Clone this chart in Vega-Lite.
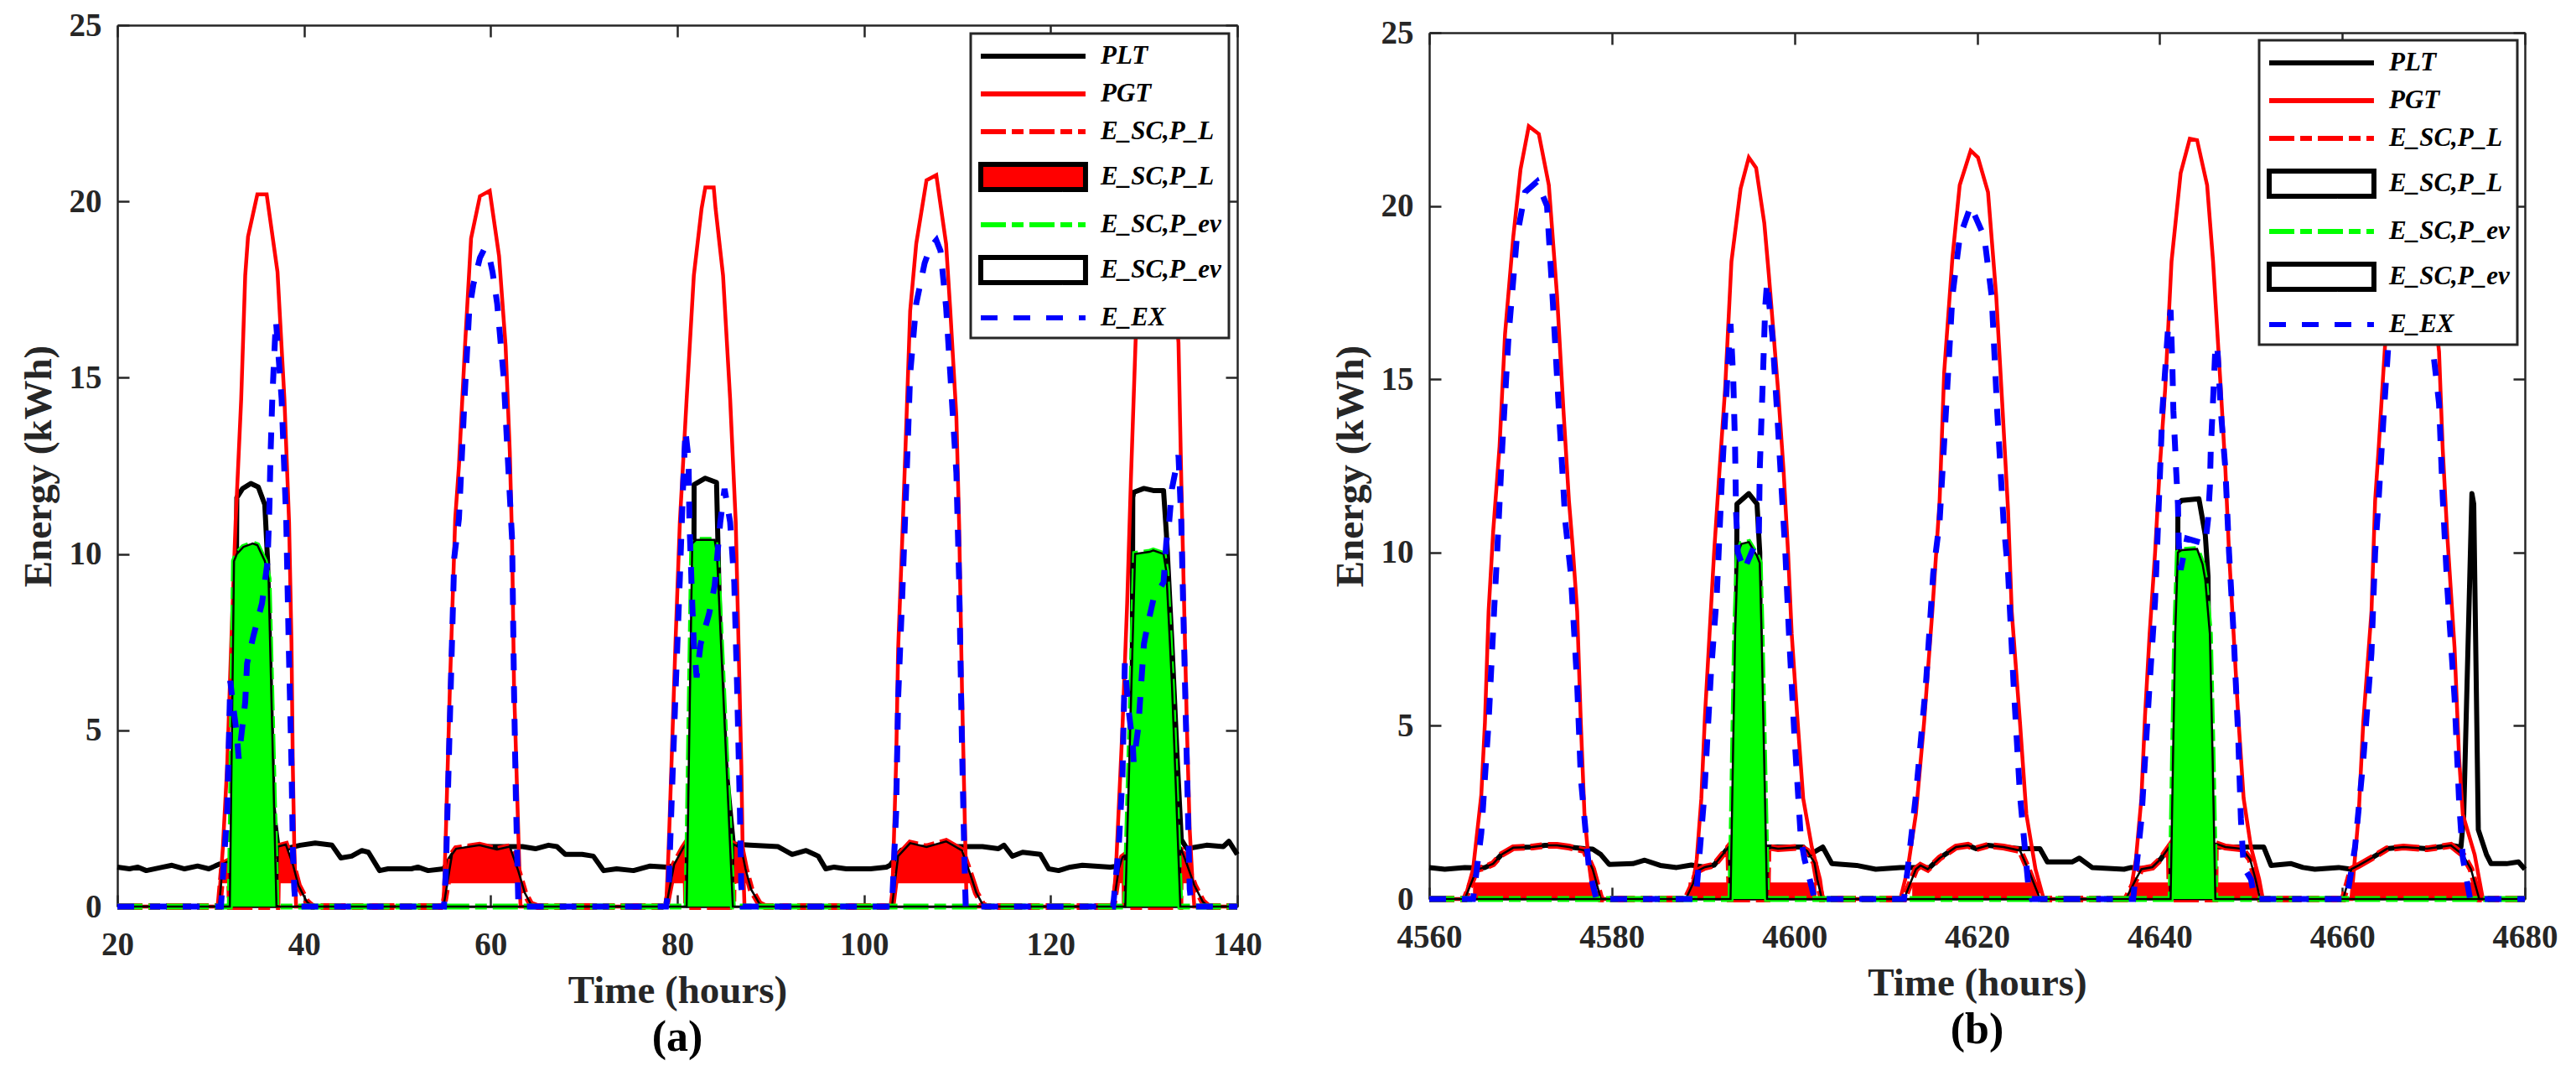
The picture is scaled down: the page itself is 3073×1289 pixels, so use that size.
{
  "$schema": "https://vega.github.io/schema/vega-lite/v6.json",
  "background": "white",
  "padding": {"left": 22, "top": 11, "right": 5, "bottom": 5},
  "config": {
    "view": {"stroke": null},
    "font": "Liberation Serif",
    "axis": {
      "grid": false,
      "domainColor": "#262626",
      "domainWidth": 2.5,
      "tickColor": "#262626",
      "tickWidth": 2.5,
      "tickSize": -14,
      "labelColor": "#262626",
      "labelFont": "Liberation Serif",
      "labelFontSize": 39,
      "labelFontWeight": "bold",
      "labelFlush": false,
      "titleColor": "#262626",
      "titleFont": "Liberation Serif",
      "titleFontSize": 47,
      "titleFontWeight": "bold"
    },
    "legend": {
      "title": null, "orient": "top-right", "padding": 9,
      "fillColor": "white", "strokeColor": "#262626", "strokeWidth": 3,
      "symbolSize": 900, "symbolStrokeWidth": 6, "symbolOpacity": 1,
      "labelFont": "Liberation Serif", "labelFontSize": 31, "labelFontStyle": "italic", "labelFontWeight": "bold", "labelColor": "black",
      "labelOffset": 110, "rowPadding": 12
    }
  },
  "datasets": {
    "a": [
      {"s":"plt","t":20,"v":1.12},{"s":"plt","t":21.3,"v":1.07},{"s":"plt","t":22.2,"v":1.12},{"s":"plt","t":23.1,"v":1.02},{"s":"plt","t":24.9,"v":1.12},{"s":"plt","t":25.85,"v":1.17},{"s":"plt","t":27.2,"v":1.07},{"s":"plt","t":28.6,"v":1.15},{"s":"plt","t":29.8,"v":1.07},{"s":"plt","t":30.9,"v":1.2},{"s":"plt","t":31.6,"v":1.24},{"s":"plt","t":32.6,"v":1.3},{"s":"plt","t":32.8,"v":11.6},{"s":"plt","t":33.4,"v":11.85},{"s":"plt","t":34.3,"v":12.0},{"s":"plt","t":35.1,"v":11.9},{"s":"plt","t":35.8,"v":11.4},{"s":"plt","t":36.1,"v":9.8},{"s":"plt","t":36.4,"v":6.3},{"s":"plt","t":36.7,"v":2.8},{"s":"plt","t":37.2,"v":1.7},{"s":"plt","t":38.0,"v":1.64},{"s":"plt","t":39.6,"v":1.74},{"s":"plt","t":41.2,"v":1.8},{"s":"plt","t":43.0,"v":1.74},{"s":"plt","t":43.95,"v":1.38},{"s":"plt","t":45.1,"v":1.43},{"s":"plt","t":46.2,"v":1.59},{"s":"plt","t":46.9,"v":1.54},{"s":"plt","t":48.1,"v":1.02},{"s":"plt","t":49.0,"v":1.07},{"s":"plt","t":51.5,"v":1.07},{"s":"plt","t":52.2,"v":1.12},{"s":"plt","t":53.3,"v":1.02},{"s":"plt","t":54.95,"v":1.07},{"s":"plt","t":56,"v":1.5},{"s":"plt","t":58,"v":1.7},{"s":"plt","t":60,"v":1.7},{"s":"plt","t":62.05,"v":1.7},{"s":"plt","t":63.4,"v":1.7},{"s":"plt","t":64.8,"v":1.64},{"s":"plt","t":66.2,"v":1.74},{"s":"plt","t":67.1,"v":1.7},{"s":"plt","t":68.0,"v":1.48},{"s":"plt","t":69.8,"v":1.48},{"s":"plt","t":71.0,"v":1.43},{"s":"plt","t":72.1,"v":1.02},{"s":"plt","t":73.5,"v":1.07},{"s":"plt","t":75.3,"v":1.02},{"s":"plt","t":77.1,"v":1.15},{"s":"plt","t":78.9,"v":1.12},{"s":"plt","t":80.5,"v":1.2},{"s":"plt","t":81.7,"v":1.25},{"s":"plt","t":81.8,"v":11.97},{"s":"plt","t":83.0,"v":12.15},{"s":"plt","t":84.2,"v":12.03},{"s":"plt","t":84.3,"v":10.9},{"s":"plt","t":84.6,"v":7.45},{"s":"plt","t":85.2,"v":4.0},{"s":"plt","t":86.0,"v":1.77},{"s":"plt","t":87.8,"v":1.74},{"s":"plt","t":90.8,"v":1.7},{"s":"plt","t":92.3,"v":1.48},{"s":"plt","t":93.8,"v":1.59},{"s":"plt","t":95.1,"v":1.43},{"s":"plt","t":95.9,"v":1.07},{"s":"plt","t":96.8,"v":1.12},{"s":"plt","t":98.1,"v":1.07},{"s":"plt","t":100.7,"v":1.07},{"s":"plt","t":102.4,"v":1.12},{"s":"plt","t":102.8,"v":1.17},{"s":"plt","t":104,"v":1.6},{"s":"plt","t":107,"v":1.7},{"s":"plt","t":111.0,"v":1.7},{"s":"plt","t":112.7,"v":1.7},{"s":"plt","t":114.4,"v":1.64},{"s":"plt","t":115.0,"v":1.74},{"s":"plt","t":115.9,"v":1.43},{"s":"plt","t":117.0,"v":1.54},{"s":"plt","t":118.9,"v":1.48},{"s":"plt","t":119.8,"v":1.07},{"s":"plt","t":120.85,"v":1.02},{"s":"plt","t":122.1,"v":1.12},{"s":"plt","t":123.4,"v":1.17},{"s":"plt","t":126.4,"v":1.12},{"s":"plt","t":128.7,"v":1.2},{"s":"plt","t":128.8,"v":11.6},{"s":"plt","t":128.9,"v":11.75},{"s":"plt","t":130,"v":11.86},{"s":"plt","t":131,"v":11.8},{"s":"plt","t":132.1,"v":11.8},{"s":"plt","t":132.4,"v":10.6},{"s":"plt","t":133.0,"v":7.45},{"s":"plt","t":133.6,"v":4.0},{"s":"plt","t":134.0,"v":1.9},{"s":"plt","t":134.6,"v":1.64},{"s":"plt","t":136.7,"v":1.74},{"s":"plt","t":138.5,"v":1.7},{"s":"plt","t":139.1,"v":1.85},{"s":"plt","t":140,"v":1.48},

      {"s":"pgt","t":20,"v":0},{"s":"pgt","t":30.85,"v":0},{"s":"pgt","t":31.3,"v":1.65},{"s":"pgt","t":31.77,"v":4.0},{"s":"pgt","t":32.2,"v":7.45},{"s":"pgt","t":32.67,"v":10.9},{"s":"pgt","t":33.27,"v":14.4},{"s":"pgt","t":33.7,"v":17.9},{"s":"pgt","t":34.0,"v":19.0},{"s":"pgt","t":35.0,"v":20.2},{"s":"pgt","t":36.0,"v":20.2},{"s":"pgt","t":37.16,"v":18.0},{"s":"pgt","t":37.9,"v":14.4},{"s":"pgt","t":38.4,"v":10.9},{"s":"pgt","t":38.66,"v":7.45},{"s":"pgt","t":38.8,"v":4.0},{"s":"pgt","t":38.96,"v":1.65},{"s":"pgt","t":39.15,"v":0},
      {"s":"pgt","t":54.95,"v":0},{"s":"pgt","t":55.2,"v":2.1},{"s":"pgt","t":55.64,"v":6.3},{"s":"pgt","t":56.2,"v":11.0},{"s":"pgt","t":56.6,"v":12.5},{"s":"pgt","t":57.25,"v":15.9},{"s":"pgt","t":57.9,"v":18.95},{"s":"pgt","t":58.85,"v":20.15},{"s":"pgt","t":59.9,"v":20.3},{"s":"pgt","t":60.9,"v":18.45},{"s":"pgt","t":61.6,"v":15.9},{"s":"pgt","t":62.05,"v":12.9},{"s":"pgt","t":62.3,"v":10.3},{"s":"pgt","t":62.5,"v":6.3},{"s":"pgt","t":62.96,"v":2.1},{"s":"pgt","t":63.2,"v":0},
      {"s":"pgt","t":78.8,"v":0},{"s":"pgt","t":79.07,"v":1.65},{"s":"pgt","t":79.37,"v":4.0},{"s":"pgt","t":79.8,"v":7.45},{"s":"pgt","t":80.27,"v":10.9},{"s":"pgt","t":81.0,"v":14.4},{"s":"pgt","t":81.77,"v":17.9},{"s":"pgt","t":82.6,"v":19.8},{"s":"pgt","t":83.0,"v":20.4},{"s":"pgt","t":83.9,"v":20.4},{"s":"pgt","t":84.1,"v":19.8},{"s":"pgt","t":84.9,"v":17.9},{"s":"pgt","t":85.66,"v":14.4},{"s":"pgt","t":86.26,"v":10.9},{"s":"pgt","t":86.56,"v":7.45},{"s":"pgt","t":86.86,"v":4.0},{"s":"pgt","t":87.0,"v":1.65},{"s":"pgt","t":87.2,"v":0},
      {"s":"pgt","t":103.0,"v":0},{"s":"pgt","t":103.45,"v":4.15},{"s":"pgt","t":103.66,"v":7.3},{"s":"pgt","t":104.1,"v":10.4},{"s":"pgt","t":104.5,"v":13.4},{"s":"pgt","t":104.95,"v":16.9},{"s":"pgt","t":105.6,"v":18.8},{"s":"pgt","t":106.7,"v":20.6},{"s":"pgt","t":107.75,"v":20.75},{"s":"pgt","t":108.8,"v":18.8},{"s":"pgt","t":109.25,"v":16.9},{"s":"pgt","t":109.9,"v":13.9},{"s":"pgt","t":110.2,"v":10.8},{"s":"pgt","t":110.5,"v":6.2},{"s":"pgt","t":110.75,"v":3.1},{"s":"pgt","t":111.0,"v":0},
      {"s":"pgt","t":126.7,"v":0},{"s":"pgt","t":127.0,"v":1.07},{"s":"pgt","t":127.3,"v":2.8},{"s":"pgt","t":127.7,"v":5.1},{"s":"pgt","t":128.2,"v":8.6},{"s":"pgt","t":128.6,"v":12.1},{"s":"pgt","t":129.1,"v":16.0},{"s":"pgt","t":129.6,"v":19.0},{"s":"pgt","t":130.5,"v":20.8},{"s":"pgt","t":131.5,"v":20.8},{"s":"pgt","t":132.5,"v":19.5},{"s":"pgt","t":133.2,"v":17.5},{"s":"pgt","t":133.7,"v":16.0},{"s":"pgt","t":134.0,"v":12.1},{"s":"pgt","t":134.3,"v":8.6},{"s":"pgt","t":134.6,"v":5.1},{"s":"pgt","t":134.9,"v":2.2},{"s":"pgt","t":135.2,"v":0.7},{"s":"pgt","t":135.4,"v":0},{"s":"pgt","t":140,"v":0},

      {"s":"scl","t":20,"v":0},{"s":"scl","t":30.9,"v":0},{"s":"scl","t":31.3,"v":1.2},{"s":"scl","t":32.0,"v":1.3},{"s":"scl","t":32.1,"v":0},{"s":"scl","t":37.1,"v":0},{"s":"scl","t":37.2,"v":1.7},{"s":"scl","t":38.05,"v":1.76},{"s":"scl","t":38.8,"v":1.2},{"s":"scl","t":39.4,"v":0.6},{"s":"scl","t":40.3,"v":0.14},{"s":"scl","t":40.9,"v":0},
      {"s":"scl","t":54.95,"v":0},{"s":"scl","t":55.86,"v":1.48},{"s":"scl","t":56.3,"v":1.64},{"s":"scl","t":58.8,"v":1.74},{"s":"scl","t":60.68,"v":1.62},{"s":"scl","t":62.05,"v":1.7},{"s":"scl","t":62.97,"v":1.0},{"s":"scl","t":63.65,"v":0.39},{"s":"scl","t":64.3,"v":0.07},{"s":"scl","t":65.0,"v":0},
      {"s":"scl","t":78.8,"v":0},{"s":"scl","t":79.67,"v":1.2},{"s":"scl","t":80.6,"v":1.65},{"s":"scl","t":80.9,"v":1.77},{"s":"scl","t":81.0,"v":0},{"s":"scl","t":85.95,"v":0},{"s":"scl","t":86.0,"v":1.77},{"s":"scl","t":86.86,"v":1.65},{"s":"scl","t":87.3,"v":1.07},{"s":"scl","t":87.9,"v":0.49},{"s":"scl","t":88.8,"v":0.08},{"s":"scl","t":89.4,"v":0},
      {"s":"scl","t":103.0,"v":0},{"s":"scl","t":103.66,"v":1.43},{"s":"scl","t":104.95,"v":1.8},{"s":"scl","t":106.7,"v":1.69},{"s":"scl","t":108.8,"v":1.85},{"s":"scl","t":110.5,"v":1.59},{"s":"scl","t":111.4,"v":0.91},{"s":"scl","t":112.04,"v":0.39},{"s":"scl","t":112.7,"v":0.07},{"s":"scl","t":113.1,"v":0},
      {"s":"scl","t":126.7,"v":0},{"s":"scl","t":127.3,"v":1.07},{"s":"scl","t":127.7,"v":1.4},{"s":"scl","t":127.95,"v":1.45},{"s":"scl","t":128.0,"v":0},{"s":"scl","t":133.85,"v":0},{"s":"scl","t":133.9,"v":1.7},{"s":"scl","t":134.6,"v":1.2},{"s":"scl","t":135.4,"v":0.6},{"s":"scl","t":136.3,"v":0.14},{"s":"scl","t":136.9,"v":0},{"s":"scl","t":140,"v":0},

      {"s":"sev","t":20,"v":0},{"s":"sev","t":32.05,"v":0},{"s":"sev","t":32.5,"v":9.8},{"s":"sev","t":32.8,"v":10.0},{"s":"sev","t":33.5,"v":10.2},{"s":"sev","t":34.5,"v":10.3},{"s":"sev","t":35.0,"v":10.25},{"s":"sev","t":35.8,"v":9.8},{"s":"sev","t":36.2,"v":9.3},{"s":"sev","t":37.05,"v":0},
      {"s":"sev","t":81.0,"v":0},{"s":"sev","t":81.6,"v":10.3},{"s":"sev","t":82.0,"v":10.4},{"s":"sev","t":84.0,"v":10.4},{"s":"sev","t":84.25,"v":10.0},{"s":"sev","t":85.95,"v":0},
      {"s":"sev","t":128.0,"v":0},{"s":"sev","t":129.05,"v":10.0},{"s":"sev","t":130.6,"v":10.06},{"s":"sev","t":131.0,"v":10.1},{"s":"sev","t":132.1,"v":10.0},{"s":"sev","t":132.4,"v":9.5},{"s":"sev","t":133.0,"v":6.3},{"s":"sev","t":133.9,"v":0},{"s":"sev","t":140,"v":0},

      {"s":"ex","t":20,"v":0},{"s":"ex","t":31.1,"v":0},{"s":"ex","t":31.77,"v":2.7},{"s":"ex","t":32.1,"v":6.4},{"s":"ex","t":32.4,"v":5.7},{"s":"ex","t":32.8,"v":4.9},{"s":"ex","t":33.0,"v":4.2},{"s":"ex","t":33.7,"v":5.8},{"s":"ex","t":33.9,"v":6.9},{"s":"ex","t":34.6,"v":7.7},{"s":"ex","t":35.5,"v":8.6},{"s":"ex","t":36.1,"v":9.8},{"s":"ex","t":36.3,"v":11.4},{"s":"ex","t":36.4,"v":12.7},{"s":"ex","t":36.6,"v":14.4},{"s":"ex","t":36.9,"v":16.15},{"s":"ex","t":37.0,"v":16.6},{"s":"ex","t":37.6,"v":14.4},{"s":"ex","t":38.1,"v":10.9},{"s":"ex","t":38.36,"v":7.45},{"s":"ex","t":38.66,"v":4.0},{"s":"ex","t":38.8,"v":1.65},{"s":"ex","t":38.96,"v":0.5},{"s":"ex","t":39.1,"v":0},
      {"s":"ex","t":55.0,"v":0},{"s":"ex","t":55.2,"v":1.0},{"s":"ex","t":55.6,"v":5.0},{"s":"ex","t":56.1,"v":9.9},{"s":"ex","t":56.6,"v":11.0},{"s":"ex","t":57.2,"v":14.4},{"s":"ex","t":57.7,"v":16.9},{"s":"ex","t":58.15,"v":17.65},{"s":"ex","t":58.85,"v":18.4},{"s":"ex","t":59.3,"v":18.64},{"s":"ex","t":59.76,"v":18.55},{"s":"ex","t":60.2,"v":18.0},{"s":"ex","t":60.7,"v":17.1},{"s":"ex","t":61.4,"v":15.0},{"s":"ex","t":61.8,"v":12.9},{"s":"ex","t":62.3,"v":10.4},{"s":"ex","t":62.5,"v":6.2},{"s":"ex","t":62.7,"v":3.1},{"s":"ex","t":62.97,"v":0},
      {"s":"ex","t":78.8,"v":0},{"s":"ex","t":79.07,"v":0.5},{"s":"ex","t":79.37,"v":2.8},{"s":"ex","t":79.8,"v":6.0},{"s":"ex","t":80.27,"v":9.3},{"s":"ex","t":80.6,"v":11.8},{"s":"ex","t":80.87,"v":13.5},{"s":"ex","t":81.2,"v":12.7},{"s":"ex","t":81.3,"v":10.9},{"s":"ex","t":81.6,"v":8.6},{"s":"ex","t":81.77,"v":7.45},{"s":"ex","t":82.07,"v":6.5},{"s":"ex","t":82.5,"v":7.45},{"s":"ex","t":83.4,"v":8.3},{"s":"ex","t":84.0,"v":9.1},{"s":"ex","t":84.3,"v":10.0},{"s":"ex","t":84.6,"v":10.9},{"s":"ex","t":85.06,"v":11.85},{"s":"ex","t":85.66,"v":10.9},{"s":"ex","t":86.1,"v":9.2},{"s":"ex","t":86.4,"v":6.3},{"s":"ex","t":86.7,"v":2.8},{"s":"ex","t":86.85,"v":0.6},{"s":"ex","t":87.0,"v":0},
      {"s":"ex","t":103.0,"v":0},{"s":"ex","t":103.45,"v":2.7},{"s":"ex","t":103.66,"v":5.9},{"s":"ex","t":104.1,"v":8.8},{"s":"ex","t":104.5,"v":11.7},{"s":"ex","t":104.95,"v":15.1},{"s":"ex","t":105.6,"v":17.1},{"s":"ex","t":106.5,"v":18.25},{"s":"ex","t":107.1,"v":18.7},{"s":"ex","t":107.75,"v":18.9},{"s":"ex","t":108.2,"v":18.6},{"s":"ex","t":108.8,"v":17.0},{"s":"ex","t":109.25,"v":15.1},{"s":"ex","t":109.9,"v":12.3},{"s":"ex","t":110.2,"v":9.2},{"s":"ex","t":110.5,"v":4.6},{"s":"ex","t":110.75,"v":1.5},{"s":"ex","t":110.9,"v":0},
      {"s":"ex","t":126.7,"v":0},{"s":"ex","t":127.3,"v":1.7},{"s":"ex","t":127.7,"v":3.7},{"s":"ex","t":127.95,"v":6.9},{"s":"ex","t":128.3,"v":5.7},{"s":"ex","t":128.8,"v":4.6},{"s":"ex","t":128.9,"v":4.1},{"s":"ex","t":129.4,"v":5.1},{"s":"ex","t":129.7,"v":6.3},{"s":"ex","t":130.0,"v":7.45},{"s":"ex","t":130.4,"v":8.0},{"s":"ex","t":131.0,"v":8.7},{"s":"ex","t":132.1,"v":9.2},{"s":"ex","t":132.4,"v":10.35},{"s":"ex","t":132.7,"v":10.9},{"s":"ex","t":133.0,"v":11.85},{"s":"ex","t":133.7,"v":12.8},{"s":"ex","t":134.0,"v":10.9},{"s":"ex","t":134.3,"v":7.45},{"s":"ex","t":134.6,"v":4.0},{"s":"ex","t":134.9,"v":0.5},{"s":"ex","t":135.1,"v":0},{"s":"ex","t":140,"v":0}
    ],
    "fa": [
      {"g":1,"t":31.1,"v":0.66},{"g":1,"t":31.3,"v":1.2},{"g":1,"t":32.0,"v":1.3},{"g":1,"t":32.05,"v":0.66},
      {"g":2,"t":37.14,"v":0.66},{"g":2,"t":37.2,"v":1.7},{"g":2,"t":38.05,"v":1.76},{"g":2,"t":38.8,"v":1.2},{"g":2,"t":39.34,"v":0.66},
      {"g":3,"t":55.36,"v":0.66},{"g":3,"t":55.86,"v":1.48},{"g":3,"t":56.3,"v":1.64},{"g":3,"t":58.8,"v":1.74},{"g":3,"t":60.68,"v":1.62},{"g":3,"t":62.05,"v":1.7},{"g":3,"t":62.97,"v":1.0},{"g":3,"t":63.35,"v":0.66},
      {"g":4,"t":79.4,"v":0.66},{"g":4,"t":79.67,"v":1.2},{"g":4,"t":80.6,"v":1.65},{"g":4,"t":80.9,"v":1.77},{"g":4,"t":80.96,"v":0.66},
      {"g":5,"t":85.97,"v":0.66},{"g":5,"t":86.0,"v":1.77},{"g":5,"t":86.86,"v":1.65},{"g":5,"t":87.3,"v":1.07},{"g":5,"t":87.72,"v":0.66},
      {"g":6,"t":103.31,"v":0.66},{"g":6,"t":103.66,"v":1.43},{"g":6,"t":104.95,"v":1.8},{"g":6,"t":106.7,"v":1.69},{"g":6,"t":108.8,"v":1.85},{"g":6,"t":110.5,"v":1.59},{"g":6,"t":111.4,"v":0.91},{"g":6,"t":111.71,"v":0.66},
      {"g":7,"t":127.07,"v":0.66},{"g":7,"t":127.3,"v":1.07},{"g":7,"t":127.7,"v":1.4},{"g":7,"t":127.95,"v":1.45},{"g":7,"t":127.98,"v":0.66},
      {"g":8,"t":133.87,"v":0.66},{"g":8,"t":133.9,"v":1.7},{"g":8,"t":134.6,"v":1.2},{"g":8,"t":135.32,"v":0.66}
    ],
    "b": [
      {"s":"plt","t":4560,"v":0.91},{"s":"plt","t":4561.7,"v":0.86},{"s":"plt","t":4563.9,"v":0.91},{"s":"plt","t":4564.8,"v":0.9},{"s":"plt","t":4566.1,"v":0.91},{"s":"plt","t":4567.0,"v":1.02},{"s":"plt","t":4567.9,"v":1.28},{"s":"plt","t":4569.2,"v":1.48},{"s":"plt","t":4571.3,"v":1.5},{"s":"plt","t":4572.7,"v":1.55},{"s":"plt","t":4574.0,"v":1.55},{"s":"plt","t":4575.3,"v":1.5},{"s":"plt","t":4577.0,"v":1.45},{"s":"plt","t":4577.9,"v":1.44},{"s":"plt","t":4578.8,"v":1.28},{"s":"plt","t":4579.7,"v":1.0},{"s":"plt","t":4582.3,"v":1.02},{"s":"plt","t":4583.6,"v":1.12},{"s":"plt","t":4585.3,"v":0.97},{"s":"plt","t":4587.1,"v":0.91},{"s":"plt","t":4588.7,"v":0.98},{"s":"plt","t":4590.2,"v":0.92},{"s":"plt","t":4591.2,"v":0.98},{"s":"plt","t":4592.1,"v":1.27},{"s":"plt","t":4592.8,"v":1.5},{"s":"plt","t":4593.6,"v":1.5},{"s":"plt","t":4593.7,"v":11.4},{"s":"plt","t":4595.0,"v":11.7},{"s":"plt","t":4595.9,"v":11.4},{"s":"plt","t":4596.2,"v":10.0},{"s":"plt","t":4596.35,"v":1.5},{"s":"plt","t":4597.3,"v":1.5},{"s":"plt","t":4600.96,"v":1.5},{"s":"plt","t":4601.6,"v":1.27},{"s":"plt","t":4603.1,"v":1.5},{"s":"plt","t":4604.1,"v":1.02},{"s":"plt","t":4606.8,"v":0.97},{"s":"plt","t":4608.9,"v":0.86},{"s":"plt","t":4611.6,"v":0.91},{"s":"plt","t":4613.3,"v":0.91},{"s":"plt","t":4613.8,"v":0.97},{"s":"plt","t":4614.6,"v":0.86},{"s":"plt","t":4615.9,"v":1.18},{"s":"plt","t":4617.7,"v":1.5},{"s":"plt","t":4619.0,"v":1.55},{"s":"plt","t":4619.9,"v":1.45},{"s":"plt","t":4621.2,"v":1.55},{"s":"plt","t":4622.9,"v":1.5},{"s":"plt","t":4624.7,"v":1.45},{"s":"plt","t":4626.9,"v":1.45},{"s":"plt","t":4627.7,"v":1.07},{"s":"plt","t":4630.4,"v":1.07},{"s":"plt","t":4631.2,"v":1.18},{"s":"plt","t":4632.6,"v":0.91},{"s":"plt","t":4636.1,"v":0.86},{"s":"plt","t":4636.9,"v":0.91},{"s":"plt","t":4638.0,"v":0.88},{"s":"plt","t":4639.2,"v":0.92},{"s":"plt","t":4640.1,"v":1.15},{"s":"plt","t":4641.05,"v":1.5},{"s":"plt","t":4641.9,"v":1.5},{"s":"plt","t":4642.0,"v":11.4},{"s":"plt","t":4642.4,"v":11.5},{"s":"plt","t":4644.3,"v":11.55},{"s":"plt","t":4645.0,"v":10.5},{"s":"plt","t":4645.3,"v":9.3},{"s":"plt","t":4645.5,"v":1.6},{"s":"plt","t":4646.4,"v":1.5},{"s":"plt","t":4649.9,"v":1.5},{"s":"plt","t":4651.4,"v":1.5},{"s":"plt","t":4652.2,"v":0.97},{"s":"plt","t":4654.4,"v":1.02},{"s":"plt","t":4655.7,"v":0.91},{"s":"plt","t":4657.0,"v":0.86},{"s":"plt","t":4659.6,"v":0.91},{"s":"plt","t":4661.0,"v":0.86},{"s":"plt","t":4661.8,"v":0.97},{"s":"plt","t":4663.2,"v":1.18},{"s":"plt","t":4664.9,"v":1.45},{"s":"plt","t":4666.7,"v":1.5},{"s":"plt","t":4669.3,"v":1.45},{"s":"plt","t":4671.9,"v":1.55},{"s":"plt","t":4673.0,"v":1.5},{"s":"plt","t":4673.3,"v":2.4},{"s":"plt","t":4674.2,"v":11.7},{"s":"plt","t":4674.4,"v":11.4},{"s":"plt","t":4674.9,"v":2.0},{"s":"plt","t":4675.8,"v":1.28},{"s":"plt","t":4676.3,"v":1.02},{"s":"plt","t":4678.0,"v":1.02},{"s":"plt","t":4679.3,"v":1.07},{"s":"plt","t":4680,"v":0.86},

      {"s":"pgt","t":4560,"v":0},{"s":"pgt","t":4563.9,"v":0},{"s":"pgt","t":4564.8,"v":0.86},{"s":"pgt","t":4565.7,"v":3.0},{"s":"pgt","t":4566.1,"v":5.1},{"s":"pgt","t":4566.5,"v":8.3},{"s":"pgt","t":4567.0,"v":10.6},{"s":"pgt","t":4567.7,"v":13.06},{"s":"pgt","t":4568.3,"v":16.3},{"s":"pgt","t":4569.2,"v":19.1},{"s":"pgt","t":4570.0,"v":21.06},{"s":"pgt","t":4570.9,"v":22.3},{"s":"pgt","t":4572.0,"v":22.08},{"s":"pgt","t":4573.1,"v":20.6},{"s":"pgt","t":4574.0,"v":17.4},{"s":"pgt","t":4574.7,"v":14.1},{"s":"pgt","t":4575.3,"v":11.5},{"s":"pgt","t":4575.7,"v":10.2},{"s":"pgt","t":4576.2,"v":8.3},{"s":"pgt","t":4576.6,"v":5.1},{"s":"pgt","t":4577.0,"v":2.45},{"s":"pgt","t":4577.5,"v":1.0},{"s":"pgt","t":4578.0,"v":0},
      {"s":"pgt","t":4588.6,"v":0},{"s":"pgt","t":4589.3,"v":1.15},{"s":"pgt","t":4589.8,"v":2.9},{"s":"pgt","t":4590.2,"v":5.3},{"s":"pgt","t":4590.7,"v":7.65},{"s":"pgt","t":4591.2,"v":10.0},{"s":"pgt","t":4591.8,"v":12.4},{"s":"pgt","t":4592.4,"v":14.7},{"s":"pgt","t":4593.1,"v":18.4},{"s":"pgt","t":4594.1,"v":20.5},{"s":"pgt","t":4595.0,"v":21.4},{"s":"pgt","t":4595.8,"v":21.1},{"s":"pgt","t":4596.7,"v":19.5},{"s":"pgt","t":4597.2,"v":18.0},{"s":"pgt","t":4598.2,"v":14.7},{"s":"pgt","t":4598.8,"v":12.4},{"s":"pgt","t":4599.3,"v":10.0},{"s":"pgt","t":4599.7,"v":7.65},{"s":"pgt","t":4600.3,"v":5.3},{"s":"pgt","t":4600.96,"v":2.9},{"s":"pgt","t":4601.9,"v":1.5},{"s":"pgt","t":4602.8,"v":0.57},{"s":"pgt","t":4603.1,"v":0},
      {"s":"pgt","t":4611.6,"v":0},{"s":"pgt","t":4612.4,"v":0.86},{"s":"pgt","t":4613.3,"v":2.45},{"s":"pgt","t":4614.2,"v":5.1},{"s":"pgt","t":4615.1,"v":8.3},{"s":"pgt","t":4615.9,"v":11.5},{"s":"pgt","t":4616.4,"v":15.2},{"s":"pgt","t":4617.3,"v":18.5},{"s":"pgt","t":4618.1,"v":20.6},{"s":"pgt","t":4619.3,"v":21.6},{"s":"pgt","t":4620.1,"v":21.4},{"s":"pgt","t":4621.2,"v":20.4},{"s":"pgt","t":4622.1,"v":17.4},{"s":"pgt","t":4622.8,"v":14.1},{"s":"pgt","t":4623.4,"v":11.2},{"s":"pgt","t":4623.8,"v":8.3},{"s":"pgt","t":4624.7,"v":5.1},{"s":"pgt","t":4625.4,"v":2.45},{"s":"pgt","t":4626.4,"v":0.86},{"s":"pgt","t":4627.3,"v":0},
      {"s":"pgt","t":4636.3,"v":0},{"s":"pgt","t":4636.8,"v":0.2},{"s":"pgt","t":4637.4,"v":1.15},{"s":"pgt","t":4638.0,"v":2.9},{"s":"pgt","t":4638.4,"v":5.3},{"s":"pgt","t":4638.9,"v":7.65},{"s":"pgt","t":4639.5,"v":10.0},{"s":"pgt","t":4640.0,"v":12.4},{"s":"pgt","t":4640.6,"v":14.7},{"s":"pgt","t":4641.3,"v":18.4},{"s":"pgt","t":4642.3,"v":20.95},{"s":"pgt","t":4643.3,"v":21.94},{"s":"pgt","t":4644.1,"v":21.9},{"s":"pgt","t":4645.2,"v":20.6},{"s":"pgt","t":4645.85,"v":18.4},{"s":"pgt","t":4646.7,"v":14.7},{"s":"pgt","t":4647.2,"v":12.4},{"s":"pgt","t":4647.6,"v":10.0},{"s":"pgt","t":4648.1,"v":7.65},{"s":"pgt","t":4648.6,"v":5.3},{"s":"pgt","t":4649.2,"v":2.9},{"s":"pgt","t":4650.0,"v":1.5},{"s":"pgt","t":4650.9,"v":0.57},{"s":"pgt","t":4651.3,"v":0},
      {"s":"pgt","t":4661.0,"v":0},{"s":"pgt","t":4661.8,"v":2.45},{"s":"pgt","t":4662.3,"v":5.1},{"s":"pgt","t":4663.2,"v":8.3},{"s":"pgt","t":4663.6,"v":11.5},{"s":"pgt","t":4664.0,"v":13.06},{"s":"pgt","t":4664.5,"v":15.2},{"s":"pgt","t":4665.3,"v":18.5},{"s":"pgt","t":4666.3,"v":20.8},{"s":"pgt","t":4667.3,"v":21.6},{"s":"pgt","t":4668.2,"v":21.3},{"s":"pgt","t":4669.2,"v":19.5},{"s":"pgt","t":4670.0,"v":17.2},{"s":"pgt","t":4670.6,"v":15.8},{"s":"pgt","t":4671.0,"v":13.0},{"s":"pgt","t":4671.5,"v":10.5},{"s":"pgt","t":4672.3,"v":7.25},{"s":"pgt","t":4672.8,"v":4.05},{"s":"pgt","t":4673.2,"v":2.45},{"s":"pgt","t":4674.5,"v":1.28},{"s":"pgt","t":4675.4,"v":0},{"s":"pgt","t":4680,"v":0},

      {"s":"scl","t":4560,"v":0},{"s":"scl","t":4563.9,"v":0},{"s":"scl","t":4565.2,"v":0.86},{"s":"scl","t":4566.1,"v":0.91},{"s":"scl","t":4567.0,"v":1.02},{"s":"scl","t":4567.9,"v":1.28},{"s":"scl","t":4569.2,"v":1.48},{"s":"scl","t":4571.3,"v":1.5},{"s":"scl","t":4572.7,"v":1.55},{"s":"scl","t":4574.0,"v":1.55},{"s":"scl","t":4575.3,"v":1.5},{"s":"scl","t":4577.0,"v":1.4},{"s":"scl","t":4577.9,"v":0.86},{"s":"scl","t":4578.8,"v":0},
      {"s":"scl","t":4588.1,"v":0},{"s":"scl","t":4588.9,"v":0.45},{"s":"scl","t":4589.3,"v":0.8},{"s":"scl","t":4590.2,"v":0.92},{"s":"scl","t":4591.2,"v":0.98},{"s":"scl","t":4592.1,"v":1.27},{"s":"scl","t":4592.8,"v":1.5},{"s":"scl","t":4592.95,"v":0},{"s":"scl","t":4597.0,"v":0},{"s":"scl","t":4597.1,"v":1.5},{"s":"scl","t":4598.2,"v":1.45},{"s":"scl","t":4600.7,"v":1.5},{"s":"scl","t":4601.4,"v":1.39},{"s":"scl","t":4602.2,"v":1.04},{"s":"scl","t":4602.5,"v":0.57},{"s":"scl","t":4603.0,"v":0},
      {"s":"scl","t":4612.0,"v":0},{"s":"scl","t":4613.3,"v":0.86},{"s":"scl","t":4613.8,"v":0.97},{"s":"scl","t":4614.6,"v":0.86},{"s":"scl","t":4615.9,"v":1.18},{"s":"scl","t":4617.7,"v":1.5},{"s":"scl","t":4619.0,"v":1.55},{"s":"scl","t":4619.9,"v":1.45},{"s":"scl","t":4621.2,"v":1.55},{"s":"scl","t":4622.9,"v":1.5},{"s":"scl","t":4624.7,"v":1.4},{"s":"scl","t":4625.6,"v":0.86},{"s":"scl","t":4626.9,"v":0},
      {"s":"scl","t":4636.3,"v":0},{"s":"scl","t":4637.4,"v":0.57},{"s":"scl","t":4638.0,"v":0.86},{"s":"scl","t":4639.2,"v":0.92},{"s":"scl","t":4640.1,"v":1.15},{"s":"scl","t":4641.05,"v":1.5},{"s":"scl","t":4641.15,"v":0},{"s":"scl","t":4646.05,"v":0},{"s":"scl","t":4646.1,"v":1.6},{"s":"scl","t":4647.2,"v":1.5},{"s":"scl","t":4649.0,"v":1.45},{"s":"scl","t":4649.9,"v":1.15},{"s":"scl","t":4650.5,"v":0.57},{"s":"scl","t":4651.0,"v":0},
      {"s":"scl","t":4660.1,"v":0},{"s":"scl","t":4661.0,"v":0.86},{"s":"scl","t":4661.8,"v":0.97},{"s":"scl","t":4663.2,"v":1.18},{"s":"scl","t":4664.9,"v":1.45},{"s":"scl","t":4666.7,"v":1.5},{"s":"scl","t":4669.3,"v":1.45},{"s":"scl","t":4671.9,"v":1.55},{"s":"scl","t":4673.2,"v":1.28},{"s":"scl","t":4674.1,"v":0.86},{"s":"scl","t":4675.0,"v":0},{"s":"scl","t":4680,"v":0},

      {"s":"sev","t":4560,"v":0},{"s":"sev","t":4593.0,"v":0},{"s":"sev","t":4593.5,"v":7.65},{"s":"sev","t":4593.8,"v":10.0},{"s":"sev","t":4594.2,"v":10.25},{"s":"sev","t":4595.0,"v":10.3},{"s":"sev","t":4595.9,"v":9.9},{"s":"sev","t":4596.2,"v":9.7},{"s":"sev","t":4596.4,"v":7.65},{"s":"sev","t":4597.0,"v":0},
      {"s":"sev","t":4641.2,"v":0},{"s":"sev","t":4641.7,"v":7.65},{"s":"sev","t":4642.0,"v":10.0},{"s":"sev","t":4642.4,"v":10.07},{"s":"sev","t":4644.1,"v":10.1},{"s":"sev","t":4644.7,"v":9.66},{"s":"sev","t":4645.0,"v":9.2},{"s":"sev","t":4645.5,"v":7.65},{"s":"sev","t":4645.8,"v":4.1},{"s":"sev","t":4646.1,"v":0},{"s":"sev","t":4680,"v":0},

      {"s":"ex","t":4560,"v":0},{"s":"ex","t":4564.8,"v":0},{"s":"ex","t":4565.7,"v":1.9},{"s":"ex","t":4566.5,"v":5.1},{"s":"ex","t":4567.1,"v":8.3},{"s":"ex","t":4567.4,"v":9.8},{"s":"ex","t":4568.0,"v":13.06},{"s":"ex","t":4568.7,"v":16.3},{"s":"ex","t":4569.6,"v":19.1},{"s":"ex","t":4570.5,"v":20.4},{"s":"ex","t":4571.8,"v":20.7},{"s":"ex","t":4572.9,"v":20.0},{"s":"ex","t":4573.5,"v":17.4},{"s":"ex","t":4574.2,"v":14.1},{"s":"ex","t":4574.9,"v":10.9},{"s":"ex","t":4575.5,"v":9.4},{"s":"ex","t":4576.2,"v":6.2},{"s":"ex","t":4576.6,"v":3.5},{"s":"ex","t":4577.5,"v":0.86},{"s":"ex","t":4578.3,"v":0},
      {"s":"ex","t":4589.2,"v":0},{"s":"ex","t":4590.1,"v":2.9},{"s":"ex","t":4590.85,"v":6.5},{"s":"ex","t":4591.5,"v":8.8},{"s":"ex","t":4592.1,"v":12.4},{"s":"ex","t":4592.7,"v":15.3},{"s":"ex","t":4593.0,"v":16.6},{"s":"ex","t":4593.3,"v":15.0},{"s":"ex","t":4593.5,"v":13.0},{"s":"ex","t":4593.6,"v":11.2},{"s":"ex","t":4593.8,"v":10.0},{"s":"ex","t":4594.5,"v":9.5},{"s":"ex","t":4596.1,"v":10.5},{"s":"ex","t":4596.2,"v":12.4},{"s":"ex","t":4596.5,"v":14.7},{"s":"ex","t":4596.8,"v":17.1},{"s":"ex","t":4597.0,"v":17.8},{"s":"ex","t":4597.6,"v":16.2},{"s":"ex","t":4598.2,"v":13.6},{"s":"ex","t":4599.0,"v":10.0},{"s":"ex","t":4599.4,"v":7.65},{"s":"ex","t":4600.0,"v":4.7},{"s":"ex","t":4600.7,"v":1.75},{"s":"ex","t":4601.1,"v":1.15},{"s":"ex","t":4601.9,"v":0.33},{"s":"ex","t":4602.2,"v":0},
      {"s":"ex","t":4612.0,"v":0},{"s":"ex","t":4612.4,"v":0.86},{"s":"ex","t":4613.3,"v":3.0},{"s":"ex","t":4614.4,"v":6.2},{"s":"ex","t":4615.2,"v":9.4},{"s":"ex","t":4615.9,"v":10.9},{"s":"ex","t":4616.6,"v":14.1},{"s":"ex","t":4617.3,"v":17.4},{"s":"ex","t":4618.1,"v":19.1},{"s":"ex","t":4619.3,"v":20.0},{"s":"ex","t":4620.8,"v":19.1},{"s":"ex","t":4621.6,"v":17.4},{"s":"ex","t":4622.2,"v":14.1},{"s":"ex","t":4622.9,"v":10.9},{"s":"ex","t":4623.4,"v":9.4},{"s":"ex","t":4624.0,"v":6.2},{"s":"ex","t":4624.7,"v":3.0},{"s":"ex","t":4625.6,"v":0.43},{"s":"ex","t":4626.0,"v":0},
      {"s":"ex","t":4637.1,"v":0},{"s":"ex","t":4638.0,"v":2.3},{"s":"ex","t":4638.9,"v":6.2},{"s":"ex","t":4639.5,"v":8.6},{"s":"ex","t":4640.3,"v":14.1},{"s":"ex","t":4640.9,"v":16.4},{"s":"ex","t":4641.2,"v":17.0},{"s":"ex","t":4641.4,"v":15.3},{"s":"ex","t":4641.5,"v":14.1},{"s":"ex","t":4641.7,"v":13.0},{"s":"ex","t":4641.8,"v":12.4},{"s":"ex","t":4642.0,"v":11.4},{"s":"ex","t":4642.1,"v":10.25},{"s":"ex","t":4642.3,"v":9.5},{"s":"ex","t":4643.0,"v":10.4},{"s":"ex","t":4645.0,"v":10.25},{"s":"ex","t":4645.3,"v":10.96},{"s":"ex","t":4645.5,"v":11.9},{"s":"ex","t":4645.6,"v":13.0},{"s":"ex","t":4645.8,"v":14.1},{"s":"ex","t":4646.1,"v":15.9},{"s":"ex","t":4646.3,"v":16.0},{"s":"ex","t":4646.7,"v":14.1},{"s":"ex","t":4647.2,"v":12.4},{"s":"ex","t":4647.6,"v":10.0},{"s":"ex","t":4648.1,"v":7.65},{"s":"ex","t":4648.6,"v":4.7},{"s":"ex","t":4648.9,"v":2.3},{"s":"ex","t":4649.2,"v":0.92},{"s":"ex","t":4650.0,"v":0.57},{"s":"ex","t":4650.4,"v":0},
      {"s":"ex","t":4660.5,"v":0},{"s":"ex","t":4661.4,"v":1.5},{"s":"ex","t":4662.3,"v":4.0},{"s":"ex","t":4663.2,"v":7.1},{"s":"ex","t":4663.6,"v":10.0},{"s":"ex","t":4664.0,"v":11.6},{"s":"ex","t":4664.5,"v":13.8},{"s":"ex","t":4665.3,"v":17.0},{"s":"ex","t":4666.3,"v":19.3},{"s":"ex","t":4667.3,"v":20.1},{"s":"ex","t":4668.2,"v":19.8},{"s":"ex","t":4669.2,"v":18.0},{"s":"ex","t":4670.0,"v":15.7},{"s":"ex","t":4670.6,"v":14.3},{"s":"ex","t":4671.0,"v":11.6},{"s":"ex","t":4671.5,"v":9.0},{"s":"ex","t":4672.3,"v":5.8},{"s":"ex","t":4672.8,"v":2.8},{"s":"ex","t":4673.2,"v":1.2},{"s":"ex","t":4674.0,"v":0},{"s":"ex","t":4680,"v":0}
    ],
    "fb": [
      {"g":1,"t":4564.8,"v":0.48},{"g":1,"t":4578.4,"v":0.48},
      {"g":2,"t":4588.4,"v":0.48},{"g":2,"t":4592.9,"v":0.48},
      {"g":3,"t":4597.05,"v":0.48},{"g":3,"t":4602.4,"v":0.48},
      {"g":4,"t":4612.9,"v":0.48},{"g":4,"t":4626.8,"v":0.48},
      {"g":5,"t":4636.9,"v":0.48},{"g":5,"t":4641.1,"v":0.48},
      {"g":6,"t":4646.15,"v":0.48},{"g":6,"t":4650.8,"v":0.48},
      {"g":7,"t":4661.0,"v":0.48},{"g":7,"t":4674.9,"v":0.48}
    ],
    "leg": [{"k":"k1"},{"k":"k2"},{"k":"k3"},{"k":"k4"},{"k":"k5"},{"k":"k6"},{"k":"k7"}]
  },
  "hconcat": [
    {
      "width": 1336,
      "height": 1051,
      "title": {"text": "(a)", "orient": "bottom", "fontSize": 52, "fontWeight": "bold", "font": "Liberation Serif", "color": "black", "offset": 8},
      "resolve": {"axis": {"x": "independent", "y": "independent"}},
      "layer": [
        {
          "data": {"name": "a"},
          "transform": [{"filter": "datum.s == 'plt'"}],
          "mark": {"type": "line", "color": "black", "strokeWidth": 6, "strokeJoin": "round"},
          "encoding": {
            "x": {"field": "t", "type": "quantitative", "scale": {"domain": [20, 140], "nice": false, "zero": false},
                  "axis": {"orient": "bottom", "values": [20, 40, 60, 80, 100, 120, 140], "format": "d", "labelPadding": 40, "title": "Time (hours)", "titlePadding": 12}},
            "y": {"field": "v", "type": "quantitative", "scale": {"domain": [0, 25], "nice": false},
                  "axis": {"orient": "left", "values": [0, 5, 10, 15, 20, 25], "format": "d", "labelPadding": 33, "title": "Energy (kWh)", "titlePadding": 12}}
          }
        },
        {
          "data": {"name": "a"},
          "transform": [{"filter": "datum.s == 'pgt'"}],
          "mark": {"type": "line", "color": "#ff0000", "strokeWidth": 4.5},
          "encoding": {
            "x": {"field": "t", "type": "quantitative", "axis": {"orient": "top", "values": [20, 40, 60, 80, 100, 120, 140], "labels": false, "title": null}},
            "y": {"field": "v", "type": "quantitative", "axis": {"orient": "right", "values": [0, 5, 10, 15, 20, 25], "labels": false, "title": null}}
          }
        },
        {
          "data": {"name": "a"},
          "transform": [{"filter": "datum.s == 'scl'"}],
          "mark": {"type": "line", "color": "#ff0000", "strokeWidth": 8, "strokeDash": [30, 7, 14, 7]},
          "encoding": {
            "x": {"field": "t", "type": "quantitative", "axis": null},
            "y": {"field": "v", "type": "quantitative", "axis": null}
          }
        },
        {
          "data": {"name": "fa"},
          "mark": {"type": "area", "color": "#ff0000", "opacity": 1},
          "encoding": {
            "x": {"field": "t", "type": "quantitative", "axis": null},
            "y": {"field": "v", "type": "quantitative", "axis": null},
            "y2": {"datum": 0.66},
            "detail": {"field": "g", "type": "nominal"}
          }
        },
        {
          "data": {"name": "a"},
          "transform": [{"filter": "datum.s == 'scl'"}],
          "mark": {"type": "line", "color": "black", "strokeWidth": 2.5},
          "encoding": {
            "x": {"field": "t", "type": "quantitative", "axis": null},
            "y": {"field": "v", "type": "quantitative", "axis": null}
          }
        },
        {
          "data": {"name": "a"},
          "transform": [{"filter": "datum.s == 'sev'"}],
          "mark": {"type": "line", "color": "#00ff00", "strokeWidth": 7, "strokeDash": [30, 7, 14, 7]},
          "encoding": {
            "x": {"field": "t", "type": "quantitative", "axis": null},
            "y": {"field": "v", "type": "quantitative", "axis": null}
          }
        },
        {
          "data": {"name": "a"},
          "transform": [{"filter": "datum.s == 'sev'"}],
          "mark": {"type": "area", "color": "#00ff00", "opacity": 1},
          "encoding": {
            "x": {"field": "t", "type": "quantitative", "axis": null},
            "y": {"field": "v", "type": "quantitative", "axis": null},
            "y2": {"datum": 0}
          }
        },
        {
          "data": {"name": "a"},
          "transform": [{"filter": "datum.s == 'sev'"}],
          "mark": {"type": "line", "color": "black", "strokeWidth": 2.5},
          "encoding": {
            "x": {"field": "t", "type": "quantitative", "axis": null},
            "y": {"field": "v", "type": "quantitative", "axis": null}
          }
        },
        {
          "data": {"name": "a"},
          "transform": [{"filter": "datum.s == 'ex'"}],
          "mark": {"type": "line", "color": "#0000ff", "strokeWidth": 7, "strokeDash": [20, 19]},
          "encoding": {
            "x": {"field": "t", "type": "quantitative", "axis": null},
            "y": {"field": "v", "type": "quantitative", "axis": null}
          }
        },
        {
          "data": {"name": "leg"},
          "mark": {"type": "point", "opacity": 0},
          "encoding": {
            "color": {
              "field": "k", "type": "nominal",
              "scale": {"domain": ["k1", "k2", "k3", "k4", "k5", "k6", "k7"], "range": ["#000000", "#ff0000", "#ff0000", "#000000", "#00ff00", "#000000", "#0000ff"]},
              "legend": {"offset": 10, "labelExpr": "['PLT','PGT','E_SC,P_L','E_SC,P_L','E_SC,P_ev','E_SC,P_ev','E_EX'][indexof(['k1','k2','k3','k4','k5','k6','k7'], datum.value)]"}
            },
            "fill": {
              "field": "k", "type": "nominal",
              "scale": {"domain": ["k1", "k2", "k3", "k4", "k5", "k6", "k7"], "range": ["transparent", "transparent", "transparent", "#ff0000", "transparent", "#ffffff", "transparent"]},
              "legend": {"offset": 10, "labelExpr": "['PLT','PGT','E_SC,P_L','E_SC,P_L','E_SC,P_ev','E_SC,P_ev','E_EX'][indexof(['k1','k2','k3','k4','k5','k6','k7'], datum.value)]"}
            },
            "shape": {
              "field": "k", "type": "nominal",
              "scale": {"domain": ["k1", "k2", "k3", "k4", "k5", "k6", "k7"], "range": ["M-1,0H7.33", "M-1,0H7.33", "M-1,0H7.33", "M-1,-1H7.33V1H-1Z", "M-1,0H7.33", "M-1,-1H7.33V1H-1Z", "M-1,0H7.33"]},
              "legend": {"offset": 10, "labelExpr": "['PLT','PGT','E_SC,P_L','E_SC,P_L','E_SC,P_ev','E_SC,P_ev','E_EX'][indexof(['k1','k2','k3','k4','k5','k6','k7'], datum.value)]"}
            },
            "strokeDash": {
              "field": "k", "type": "nominal",
              "scale": {"domain": ["k1", "k2", "k3", "k4", "k5", "k6", "k7"], "range": [[1, 0], [1, 0], [30, 7, 14, 7], [1, 0], [30, 7, 14, 7], [1, 0], [20, 19]]},
              "legend": {"offset": 10, "labelExpr": "['PLT','PGT','E_SC,P_L','E_SC,P_L','E_SC,P_ev','E_SC,P_ev','E_EX'][indexof(['k1','k2','k3','k4','k5','k6','k7'], datum.value)]"}
            }
          }
        }
      ]
    },
    {
      "width": 1307,
      "height": 1033,
      "title": {"text": "(b)", "orient": "bottom", "fontSize": 52, "fontWeight": "bold", "font": "Liberation Serif", "color": "black", "offset": 8},
      "resolve": {"axis": {"x": "independent", "y": "independent"}},
      "layer": [
        {
          "data": {"name": "b"},
          "transform": [{"filter": "datum.s == 'plt'"}],
          "mark": {"type": "line", "color": "black", "strokeWidth": 6, "strokeJoin": "round"},
          "encoding": {
            "x": {"field": "t", "type": "quantitative", "scale": {"domain": [4560, 4680], "nice": false, "zero": false},
                  "axis": {"orient": "bottom", "values": [4560, 4580, 4600, 4620, 4640, 4660, 4680], "format": "d", "labelPadding": 40, "title": "Time (hours)", "titlePadding": 12}},
            "y": {"field": "v", "type": "quantitative", "scale": {"domain": [0, 25], "nice": false},
                  "axis": {"orient": "left", "values": [0, 5, 10, 15, 20, 25], "format": "d", "labelPadding": 33, "title": "Energy (kWh)", "titlePadding": 12}}
          }
        },
        {
          "data": {"name": "b"},
          "transform": [{"filter": "datum.s == 'pgt'"}],
          "mark": {"type": "line", "color": "#ff0000", "strokeWidth": 4.5},
          "encoding": {
            "x": {"field": "t", "type": "quantitative", "axis": {"orient": "top", "values": [4560, 4580, 4600, 4620, 4640, 4660, 4680], "labels": false, "title": null}},
            "y": {"field": "v", "type": "quantitative", "axis": {"orient": "right", "values": [0, 5, 10, 15, 20, 25], "labels": false, "title": null}}
          }
        },
        {
          "data": {"name": "b"},
          "transform": [{"filter": "datum.s == 'scl'"}],
          "mark": {"type": "line", "color": "#ff0000", "strokeWidth": 8, "strokeDash": [30, 7, 14, 7]},
          "encoding": {
            "x": {"field": "t", "type": "quantitative", "axis": null},
            "y": {"field": "v", "type": "quantitative", "axis": null}
          }
        },
        {
          "data": {"name": "fb"},
          "mark": {"type": "area", "color": "#ff0000", "opacity": 1},
          "encoding": {
            "x": {"field": "t", "type": "quantitative", "axis": null},
            "y": {"field": "v", "type": "quantitative", "axis": null},
            "y2": {"datum": 0},
            "detail": {"field": "g", "type": "nominal"}
          }
        },
        {
          "data": {"name": "b"},
          "transform": [{"filter": "datum.s == 'scl'"}],
          "mark": {"type": "line", "color": "black", "strokeWidth": 2.5},
          "encoding": {
            "x": {"field": "t", "type": "quantitative", "axis": null},
            "y": {"field": "v", "type": "quantitative", "axis": null}
          }
        },
        {
          "data": {"name": "b"},
          "transform": [{"filter": "datum.s == 'sev'"}],
          "mark": {"type": "line", "color": "#00ff00", "strokeWidth": 7, "strokeDash": [30, 7, 14, 7]},
          "encoding": {
            "x": {"field": "t", "type": "quantitative", "axis": null},
            "y": {"field": "v", "type": "quantitative", "axis": null}
          }
        },
        {
          "data": {"name": "b"},
          "transform": [{"filter": "datum.s == 'sev'"}],
          "mark": {"type": "area", "color": "#00ff00", "opacity": 1},
          "encoding": {
            "x": {"field": "t", "type": "quantitative", "axis": null},
            "y": {"field": "v", "type": "quantitative", "axis": null},
            "y2": {"datum": 0}
          }
        },
        {
          "data": {"name": "b"},
          "transform": [{"filter": "datum.s == 'sev'"}],
          "mark": {"type": "line", "color": "black", "strokeWidth": 2.5},
          "encoding": {
            "x": {"field": "t", "type": "quantitative", "axis": null},
            "y": {"field": "v", "type": "quantitative", "axis": null}
          }
        },
        {
          "data": {"name": "b"},
          "transform": [{"filter": "datum.s == 'ex'"}],
          "mark": {"type": "line", "color": "#0000ff", "strokeWidth": 7, "strokeDash": [20, 19]},
          "encoding": {
            "x": {"field": "t", "type": "quantitative", "axis": null},
            "y": {"field": "v", "type": "quantitative", "axis": null}
          }
        },
        {
          "data": {"name": "leg"},
          "mark": {"type": "point", "opacity": 0},
          "encoding": {
            "color": {
              "field": "k", "type": "nominal",
              "scale": {"domain": ["k1", "k2", "k3", "k4", "k5", "k6", "k7"], "range": ["#000000", "#ff0000", "#ff0000", "#000000", "#00ff00", "#000000", "#0000ff"]},
              "legend": {"offset": 9, "labelExpr": "['PLT','PGT','E_SC,P_L','E_SC,P_L','E_SC,P_ev','E_SC,P_ev','E_EX'][indexof(['k1','k2','k3','k4','k5','k6','k7'], datum.value)]"}
            },
            "fill": {
              "field": "k", "type": "nominal",
              "scale": {"domain": ["k1", "k2", "k3", "k4", "k5", "k6", "k7"], "range": ["transparent", "transparent", "transparent", "#ffffff", "transparent", "#ffffff", "transparent"]},
              "legend": {"offset": 9, "labelExpr": "['PLT','PGT','E_SC,P_L','E_SC,P_L','E_SC,P_ev','E_SC,P_ev','E_EX'][indexof(['k1','k2','k3','k4','k5','k6','k7'], datum.value)]"}
            },
            "shape": {
              "field": "k", "type": "nominal",
              "scale": {"domain": ["k1", "k2", "k3", "k4", "k5", "k6", "k7"], "range": ["M-1,0H7.33", "M-1,0H7.33", "M-1,0H7.33", "M-1,-1H7.33V1H-1Z", "M-1,0H7.33", "M-1,-1H7.33V1H-1Z", "M-1,0H7.33"]},
              "legend": {"offset": 9, "labelExpr": "['PLT','PGT','E_SC,P_L','E_SC,P_L','E_SC,P_ev','E_SC,P_ev','E_EX'][indexof(['k1','k2','k3','k4','k5','k6','k7'], datum.value)]"}
            },
            "strokeDash": {
              "field": "k", "type": "nominal",
              "scale": {"domain": ["k1", "k2", "k3", "k4", "k5", "k6", "k7"], "range": [[1, 0], [1, 0], [30, 7, 14, 7], [1, 0], [30, 7, 14, 7], [1, 0], [20, 19]]},
              "legend": {"offset": 9, "labelExpr": "['PLT','PGT','E_SC,P_L','E_SC,P_L','E_SC,P_ev','E_SC,P_ev','E_EX'][indexof(['k1','k2','k3','k4','k5','k6','k7'], datum.value)]"}
            }
          }
        }
      ]
    }
  ],
  "spacing": 229,
  "bounds": "flush",
  "center": true,
  "resolve": {
    "scale": {"color": "independent", "fill": "independent", "shape": "independent", "strokeDash": "independent"},
    "legend": {"color": "independent", "fill": "independent", "shape": "independent", "strokeDash": "independent"}
  }
}
